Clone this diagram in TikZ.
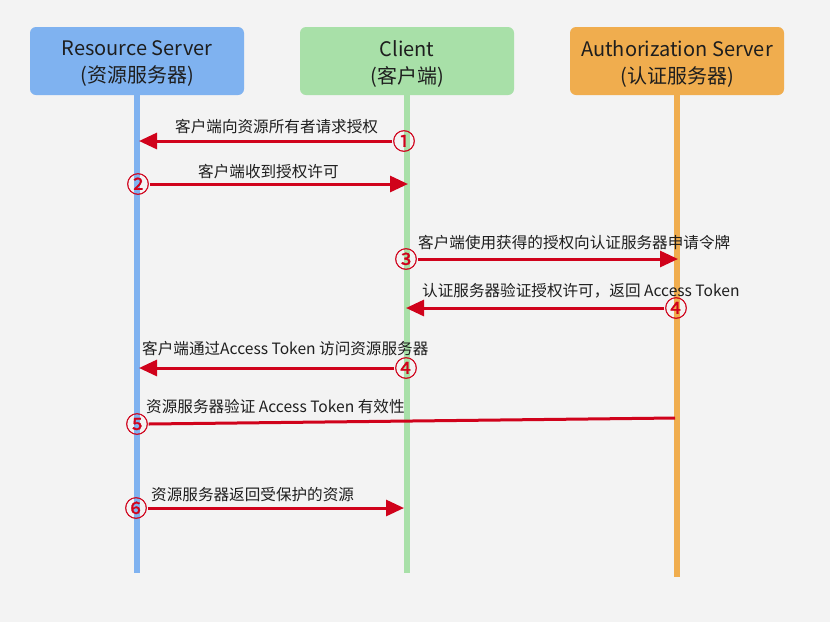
\documentclass[tikz,border=0pt]{standalone}
\usepackage{fontspec}
\setmainfont{Noto Sans CJK SC}
\newfontfamily\numfont[FakeBold=1.2]{Noto Sans CJK SC}
\usetikzlibrary{arrows.meta}
\definecolor{bg}{RGB}{243,243,243}
\definecolor{rsblue}{RGB}{127,178,240}
\definecolor{clgreen}{RGB}{168,224,168}
\definecolor{asorange}{RGB}{240,173,78}
\definecolor{msgred}{RGB}{208,2,27}
\definecolor{txt}{RGB}{30,30,30}
\tikzset{
  hdr/.style={rounded corners=6pt, minimum width=214pt, minimum height=68pt, inner sep=0pt},
  hdrtext/.style={align=center, text=txt, font=\fontsize{20}{27}\selectfont, inner sep=0pt},
  life/.style={line width=6pt},
  msg/.style={draw=msgred, line width=3pt, -{Triangle[length=18pt,width=16pt]}},
  msgline/.style={draw=msgred, line width=3pt},
  num/.style={text=msgred, font=\numfont\fontsize{23}{23}\selectfont, inner sep=0pt},
  lbl/.style={text=txt, font=\fontsize{15.6}{18}\selectfont, inner sep=0pt, anchor=west},
}
\begin{document}
\begin{tikzpicture}[x=1pt,y=-1pt]
\useasboundingbox[fill=bg] (0,0) rectangle (830,622);
% headers
\node[hdr, fill=rsblue] (rs) at (137,61) {};
\node[hdr, fill=clgreen] (cl) at (407,61) {};
\node[hdr, fill=asorange] (as) at (677,61) {};
\node[hdrtext] (rst) at ([yshift=-2.5pt]rs.center) {Resource Server\\(资源服务器)};
\node[hdrtext] (clt) at ([yshift=-2.5pt]cl.center) {Client\\(客户端)};
\node[hdrtext] (ast) at ([yshift=-2.5pt]as.center) {Authorization Server\\(认证服务器)};
% lifeline ends
\coordinate (rsend) at (137,573);
\coordinate (clend) at (407,573);
\coordinate (asend) at (677,577);
\draw[life, rsblue] (rs.south) -- (rsend);
\draw[life, clgreen] (cl.south) -- (clend);
\draw[life, asorange] (as.south) -- (asend);
% targets
\coordinate (t1) at (139,141);
\coordinate (t2) at (408,184);
\coordinate (t3) at (678,259);
\coordinate (t4) at (406,308);
\coordinate (t5) at (139,368);
\coordinate (s6) at (675,418);
\coordinate (t7) at (404,508);
% numbers
\node[num] (n1) at (404,141) {①};
\node[num] (n2) at (138,184) {②};
\node[num] (n3) at (406,259) {③};
\node[num] (n4) at (676,308) {④};
\node[num] (n5) at (406,368) {④};
\node[num] (n6) at (137,424) {⑤};
\node[num] (n7) at (136,508) {⑥};
% messages
\draw[msg] (n1.west) -- (t1);
\draw[msg] (n2.east) -- (t2);
\draw[msg] (n3.east) -- (t3);
\draw[msg] (n4.west) -- (t4);
\draw[msg] (n5.west) -- (t5);
\draw[msgline] (s6) -- (n6.east);
\draw[msg] (n7.east) -- (t7);
% labels
\node[lbl] (l1) at (175,127) {客户端向资源所有者请求授权};
\node[lbl] (l2) at (198,172) {客户端收到授权许可};
\node[lbl] (l3) at (418,243) {客户端使用获得的授权向认证服务器申请令牌};
\node[lbl] (l4) at (422,291) {认证服务器验证授权许可，返回 Access Token};
\node[lbl] (l5) at (142,349) {客户端通过Access Token 访问资源服务器};
\node[lbl] (l6) at (146,407) {资源服务器验证 Access Token 有效性};
\node[lbl] (l7) at (151,495) {资源服务器返回受保护的资源};
\end{tikzpicture}
\end{document}
